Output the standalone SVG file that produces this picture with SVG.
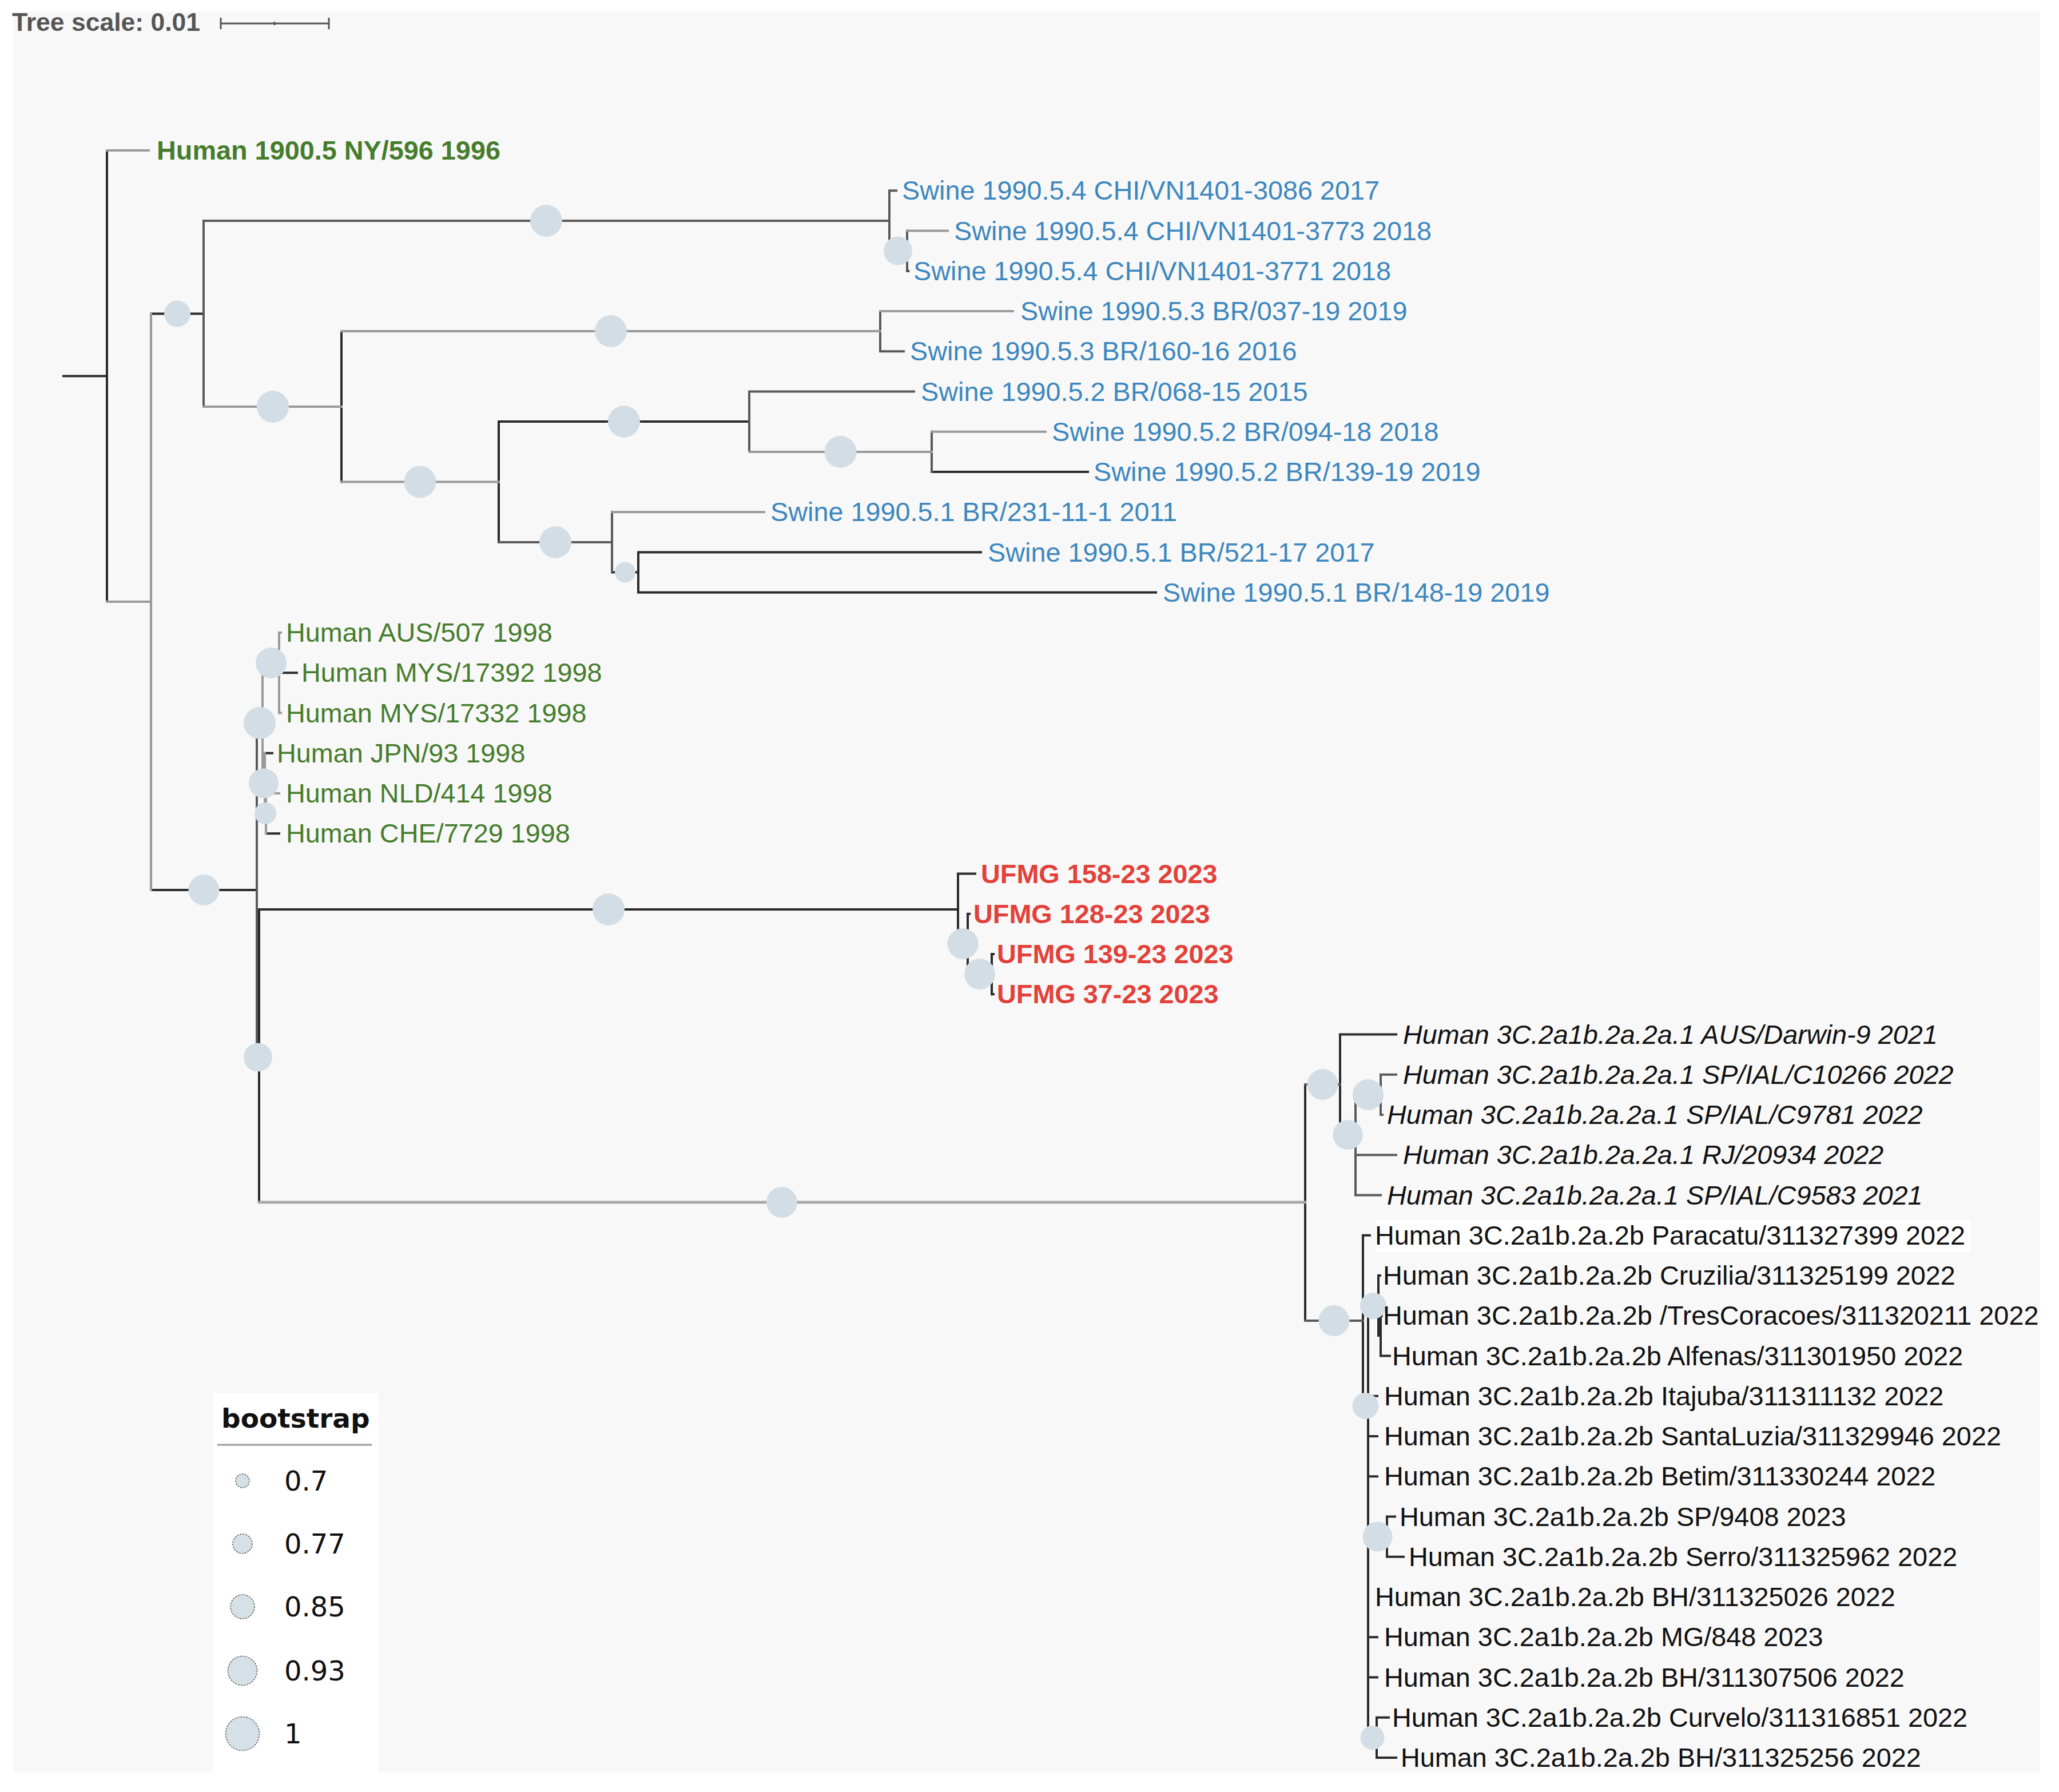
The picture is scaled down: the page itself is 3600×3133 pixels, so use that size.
<svg xmlns="http://www.w3.org/2000/svg" width="3600" height="3133" viewBox="0 0 3600 3133">
<style>
.t{font-family:"Liberation Sans",Arial,Helvetica,sans-serif;font-size:46.8px}
.sw{fill:#3d87be}
.hg{fill:#467d2d}
.hb{fill:#467d2d;font-weight:bold}
.uf{fill:#e2413a;font-weight:bold}
.hi{fill:#111;font-style:italic}
.hr{fill:#111}
.k{fill:none;stroke:#2b2b2b;stroke-width:4;stroke-linecap:square}
.d{fill:none;stroke:#5a5a5a;stroke-width:4;stroke-linecap:square}
.g{fill:none;stroke:#9a9a9a;stroke-width:4;stroke-linecap:square}
.gt{fill:none;stroke:#a8a8a8;stroke-width:5;stroke-linecap:square}
.bs{fill:#d2dde5}
.lc{fill:#d5e1e6;stroke:#666;stroke-width:1.6;stroke-dasharray:3 2}
.ln{font-family:"DejaVu Sans",Verdana,sans-serif;font-size:48px;fill:#111}
</style>
<rect x="0" y="0" width="3600" height="3133" fill="#ffffff"/>
<rect x="23" y="20" width="3543" height="3079" fill="#f8f8f8"/>
<g id="tree-scale">
<text x="21" y="54" font-family="Liberation Sans,Arial,sans-serif" font-size="44.5" font-weight="bold" fill="#555">Tree scale: 0.01</text>
<path d="M386 41 H575 M386 31 V51 M575 31 V51 M480 38 V44" fill="none" stroke="#555" stroke-width="3"/>
</g>
<g id="connectors">
<path class="k" d="M111 657.5 H187 M187 263 V1052 M264 548.5 H356 M597 579 V842.6 M872 737 V948 M872 737 H1310 M1586 473.75 H1588 M1629 825 H1902 M1070 1000.6 H1116 M1116 965.5 V1035.75 M1116 965.5 H1715 M1116 1035.75 H2021 M264 1556 H449 M453 1590 V2102 M453 1590 H1675 M1675 1527.5 V1650 M1675 1527.5 H1705 M1675 1650 H1692 M1692 1597.75 V1703 M1692 1597.75 H1695 M1692 1703 H1734 M1734 1668 V1738.25 M1734 1668 H1737 M1734 1738.25 H1737 M488 1176.25 H519 M463 1316.75 H476 M465 1457.25 H488"/>
<path class="k" d="M2282 1896 V2309 M2343 1808.5 V1984 M2343 1808.5 H2441 M2383 2159.75 V2458 M2383 2159.75 H2395 M2383 2458 H2392 M2392 2283 V3038 M2392 2283 H2410 M2410 2230 V2335 M2410 2230 H2413 M2410 2335 H2414 M2414 2300.25 V2370.5 M2414 2300.25 H2416 M2414 2370.5 H2430 M2392 2440.75 H2408 M2392 2511 H2408 M2392 2581.25 H2408 M2392 2686.6 H2425 M2425 2651.5 V2721.75 M2425 2651.5 H2439 M2425 2721.75 H2454 M2392 2862.25 H2408 M2392 2932.5 H2408 M2392 3038 H2407 M2407 3002.75 V3073 M2407 3002.75 H2428 M2407 3073 H2441"/>
<path class="d" d="M356 386 V711 M356 386 H1555 M1555 333.25 V438.6 M1555 333.25 H1567 M1555 438.6 H1586 M1586 403.5 V473.75 M1539 544 V614.25 M1539 614.25 H1580 M1310 684.5 V790 M1310 684.5 H1598 M1629 754.75 V825 M872 948 H1070 M1070 895.25 V1000.6 M449 1264 V1848.5 M449 1848.5 H453"/>
<path class="d" d="M2282 1896 H2343 M2343 1984 H2370 M2370 1914 V2089.5 M2370 1914 H2414 M2414 1878.75 V1949 M2414 1878.75 H2441 M2414 1949 H2417 M2370 2019.25 H2441 M2370 2089.5 H2414 M2282 2309 H2383"/>
<path class="g" d="M187 263 H260 M187 1052 H264 M264 548.5 V1556 M356 711 H597 M597 579 H1539 M1539 544 H1771 M597 842.6 H872 M1310 790 H1629 M1629 754.75 H1828 M1070 895.25 H1336 M1586 403.5 H1657"/>
<path class="g" d="M449 1264 H459 M459 1159 V1369.4 M459 1159 H488 M488 1106 V1246.5 M488 1106 H491 M488 1246.5 H491 M459 1369.4 H463 M463 1316.75 V1422 M463 1422 H465 M465 1387 V1457.25 M465 1387 H488"/>
<path class="gt" d="M453 2102 H2282"/>
</g>
<g id="bootstrap-nodes">
<g id="n-swine-all"><circle class="bs" cx="310" cy="548.5" r="23"/></g>
<g id="n-chi"><circle class="bs" cx="955" cy="386" r="28"/></g>
<g id="n-chi-inner"><circle class="bs" cx="1570" cy="438.6" r="25"/></g>
<g id="n-br"><circle class="bs" cx="477" cy="711" r="28"/></g>
<g id="n-5-3"><circle class="bs" cx="1068" cy="579" r="28"/></g>
<g id="n-5-2-5-1"><circle class="bs" cx="734.5" cy="842.6" r="28"/></g>
<g id="n-5-2"><circle class="bs" cx="1091" cy="737" r="28"/></g>
<g id="n-5-2-inner"><circle class="bs" cx="1469.5" cy="790" r="28"/></g>
<g id="n-5-1"><circle class="bs" cx="971" cy="948" r="28"/></g>
<g id="n-5-1-inner"><circle class="bs" cx="1093" cy="1000.6" r="18"/></g>
<g id="n-a"><circle class="bs" cx="356.5" cy="1556" r="27"/></g>
<g id="n-b"><circle class="bs" cx="451" cy="1848.5" r="25"/></g>
<g id="n-green"><circle class="bs" cx="454" cy="1264" r="28"/></g>
<g id="n-aus-mys"><circle class="bs" cx="474" cy="1159" r="27"/></g>
<g id="n-green2"><circle class="bs" cx="461" cy="1369.4" r="26"/></g>
<g id="n-green3"><circle class="bs" cx="464" cy="1422" r="19"/></g>
<g id="n-ufmg"><circle class="bs" cx="1064" cy="1590" r="28"/></g>
<g id="n-ufmg-sub"><circle class="bs" cx="1683.5" cy="1650" r="27"/></g>
<g id="n-ufmg-subsub"><circle class="bs" cx="1713" cy="1703" r="27"/></g>
<g id="n-3c"><circle class="bs" cx="1367" cy="2102" r="27"/></g>
<g id="n-2a1"><circle class="bs" cx="2312.5" cy="1896" r="27"/></g>
<g id="n-2a1-b"><circle class="bs" cx="2356.5" cy="1984" r="26"/></g>
<g id="n-2a1-c"><circle class="bs" cx="2392" cy="1914" r="27"/></g>
<g id="n-2b"><circle class="bs" cx="2332.5" cy="2309" r="27"/></g>
<g id="n-2b-m"><circle class="bs" cx="2387.5" cy="2458" r="23"/></g>
<g id="n-2b-c1"><circle class="bs" cx="2401" cy="2283" r="23"/></g>
<g id="n-2b-sp"><circle class="bs" cx="2408.5" cy="2686.6" r="26"/></g>
<g id="n-2b-cu"><circle class="bs" cx="2399.5" cy="3038" r="21"/></g>
</g>
<rect x="2405" y="2133" width="1040" height="56" fill="#ffffff"/>
<g id="leaves">
<g id="l0"><text class="t hb" x="274" y="279">Human 1900.5 NY/596 1996</text></g>
<g id="l1"><text class="t sw" x="1577" y="349.25">Swine 1990.5.4 CHI/VN1401-3086 2017</text></g>
<g id="l2"><text class="t sw" x="1668" y="419.5">Swine 1990.5.4 CHI/VN1401-3773 2018</text></g>
<g id="l3"><text class="t sw" x="1597" y="489.75">Swine 1990.5.4 CHI/VN1401-3771 2018</text></g>
<g id="l4"><text class="t sw" x="1784" y="560">Swine 1990.5.3 BR/037-19 2019</text></g>
<g id="l5"><text class="t sw" x="1591" y="630.25">Swine 1990.5.3 BR/160-16 2016</text></g>
<g id="l6"><text class="t sw" x="1610" y="700.5">Swine 1990.5.2 BR/068-15 2015</text></g>
<g id="l7"><text class="t sw" x="1839" y="770.75">Swine 1990.5.2 BR/094-18 2018</text></g>
<g id="l8"><text class="t sw" x="1912" y="841">Swine 1990.5.2 BR/139-19 2019</text></g>
<g id="l9"><text class="t sw" x="1347" y="911.25">Swine 1990.5.1 BR/231-11-1 2011</text></g>
<g id="l10"><text class="t sw" x="1727" y="981.5">Swine 1990.5.1 BR/521-17 2017</text></g>
<g id="l11"><text class="t sw" x="2033" y="1051.75">Swine 1990.5.1 BR/148-19 2019</text></g>
<g id="l12"><text class="t hg" x="500" y="1122">Human AUS/507 1998</text></g>
<g id="l13"><text class="t hg" x="527" y="1192.25">Human MYS/17392 1998</text></g>
<g id="l14"><text class="t hg" x="500" y="1262.5">Human MYS/17332 1998</text></g>
<g id="l15"><text class="t hg" x="484" y="1332.75">Human JPN/93 1998</text></g>
<g id="l16"><text class="t hg" x="500" y="1403">Human NLD/414 1998</text></g>
<g id="l17"><text class="t hg" x="500" y="1473.25">Human CHE/7729 1998</text></g>
<g id="l18"><text class="t uf" x="1715" y="1543.5">UFMG 158-23 2023</text></g>
<g id="l19"><text class="t uf" x="1702" y="1613.75">UFMG 128-23 2023</text></g>
<g id="l20"><text class="t uf" x="1743" y="1684">UFMG 139-23 2023</text></g>
<g id="l21"><text class="t uf" x="1743" y="1754.25">UFMG 37-23 2023</text></g>
<g id="l22"><text class="t hi" x="2453" y="1824.5">Human 3C.2a1b.2a.2a.1 AUS/Darwin-9 2021</text></g>
<g id="l23"><text class="t hi" x="2453" y="1894.75">Human 3C.2a1b.2a.2a.1 SP/IAL/C10266 2022</text></g>
<g id="l24"><text class="t hi" x="2425" y="1965">Human 3C.2a1b.2a.2a.1 SP/IAL/C9781 2022</text></g>
<g id="l25"><text class="t hi" x="2453" y="2035.25">Human 3C.2a1b.2a.2a.1 RJ/20934 2022</text></g>
<g id="l26"><text class="t hi" x="2425" y="2105.5">Human 3C.2a1b.2a.2a.1 SP/IAL/C9583 2021</text></g>
<g id="l27"><text class="t hr" x="2404" y="2175.75">Human 3C.2a1b.2a.2b Paracatu/311327399 2022</text></g>
<g id="l28"><text class="t hr" x="2418" y="2246">Human 3C.2a1b.2a.2b Cruzilia/311325199 2022</text></g>
<g id="l29"><text class="t hr" x="2418" y="2316.25">Human 3C.2a1b.2a.2b /TresCoracoes/311320211 2022</text></g>
<g id="l30"><text class="t hr" x="2434" y="2386.5">Human 3C.2a1b.2a.2b Alfenas/311301950 2022</text></g>
<g id="l31"><text class="t hr" x="2420" y="2456.75">Human 3C.2a1b.2a.2b Itajuba/311311132 2022</text></g>
<g id="l32"><text class="t hr" x="2420" y="2527">Human 3C.2a1b.2a.2b SantaLuzia/311329946 2022</text></g>
<g id="l33"><text class="t hr" x="2420" y="2597.25">Human 3C.2a1b.2a.2b Betim/311330244 2022</text></g>
<g id="l34"><text class="t hr" x="2447" y="2667.5">Human 3C.2a1b.2a.2b SP/9408 2023</text></g>
<g id="l35"><text class="t hr" x="2463" y="2737.75">Human 3C.2a1b.2a.2b Serro/311325962 2022</text></g>
<g id="l36"><text class="t hr" x="2404" y="2808">Human 3C.2a1b.2a.2b BH/311325026 2022</text></g>
<g id="l37"><text class="t hr" x="2420" y="2878.25">Human 3C.2a1b.2a.2b MG/848 2023</text></g>
<g id="l38"><text class="t hr" x="2420" y="2948.5">Human 3C.2a1b.2a.2b BH/311307506 2022</text></g>
<g id="l39"><text class="t hr" x="2434" y="3018.75">Human 3C.2a1b.2a.2b Curvelo/311316851 2022</text></g>
<g id="l40"><text class="t hr" x="2449" y="3089">Human 3C.2a1b.2a.2b BH/311325256 2022</text></g>
</g>
<g id="legend">
<rect x="372" y="2436" width="289" height="663" fill="#ffffff"/>
<text x="387" y="2496" font-family="DejaVu Sans,Verdana,sans-serif" font-size="47" font-weight="bold" fill="#111">bootstrap</text>
<path d="M380 2526 H650" stroke="#999" stroke-width="3"/>
<circle class="lc" cx="424" cy="2589" r="12"/>
<text class="ln" x="497" y="2606">0.7</text>
<circle class="lc" cx="424" cy="2699" r="17"/>
<text class="ln" x="497" y="2716">0.77</text>
<circle class="lc" cx="424" cy="2809" r="21"/>
<text class="ln" x="497" y="2826">0.85</text>
<circle class="lc" cx="424" cy="2921" r="25.5"/>
<text class="ln" x="497" y="2938">0.93</text>
<circle class="lc" cx="424" cy="3031" r="29.5"/>
<text class="ln" x="497" y="3048">1</text>
</g>
</svg>
